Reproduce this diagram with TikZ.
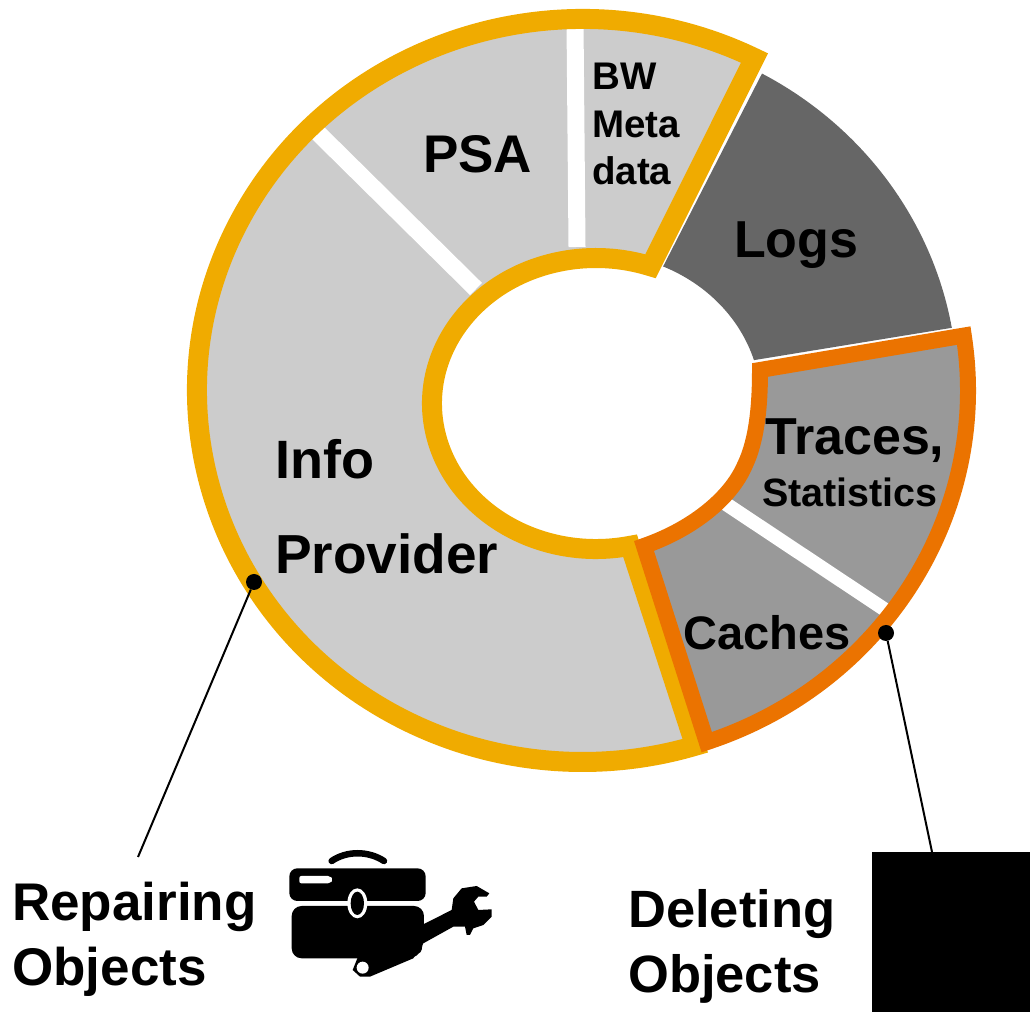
\documentclass[tikz,border=0pt]{standalone}
\usepackage{fontspec}
\setmainfont{Liberation Sans}
\definecolor{ringyellow}{HTML}{F0AB00}
\definecolor{ringorange}{HTML}{EB7300}
\definecolor{lightseg}{HTML}{CCCCCC}
\definecolor{midseg}{HTML}{999999}
\definecolor{darkseg}{HTML}{666666}
\tikzset{
    lbl/.style={anchor=base west,inner sep=0pt,font=\fontsize{#1}{#1}\selectfont\bfseries},
    pin/.style={circle,fill=black,inner sep=0pt,minimum size=16pt},
    pinline/.style={line width=2pt},
    gap/.style={white,line width=#1},
}
\begin{document}
\begin{tikzpicture}[x=1pt,y=1pt]
        \useasboundingbox (0,0) rectangle (1030,1012);
        \coordinate (outerc) at (582.5,621.5);
        \coordinate (innerc) at (596,608.5);

        % dark segment
        \fill[darkseg] ([shift={(61.4:375 and 361)}]outerc) arc[start angle=61.4,end angle=10,x radius=375,y radius=361]
            -- ([shift={(16.8:165 and 150)}]innerc) arc[start angle=16.8,end angle=66,x radius=165,y radius=150] -- cycle;

        % repair group
        \fill[lightseg] ([shift={(63.5:385.5 and 371.5)}]outerc) arc[start angle=63.5,end angle=287,x radius=385.5,y radius=371.5]
            -- ([shift={(282:164 and 145.5)}]innerc) arc[start angle=282,end angle=70.6,x radius=164,y radius=145.5] -- cycle;
        \draw[gap=17pt] (575,990) -- (577,765);
        \draw[gap=17pt] (316,881) -- (476,723);
        \draw[ringyellow,line width=20pt] ([shift={(63.5:385.5 and 371.5)}]outerc) arc[start angle=63.5,end angle=287,x radius=385.5,y radius=371.5]
            -- ([shift={(282:164 and 145.5)}]innerc) arc[start angle=282,end angle=70.6,x radius=164,y radius=145.5] -- cycle;

        % delete group
        \fill[midseg] ([shift={(8.5:385.5 and 371.5)}]outerc) arc[start angle=8.5,end angle=-71.2,x radius=385.5,y radius=371.5]
            -- (644,466) .. controls (690,482) and (730,512) .. (745,547)
            .. controls (757,572) and (760,607) .. (760,642) -- cycle;
        \draw[gap=14pt] (720,512) -- (893,397);
        \draw[ringorange,line width=16pt] ([shift={(8.5:385.5 and 371.5)}]outerc) arc[start angle=8.5,end angle=-71.2,x radius=385.5,y radius=371.5]
            -- (644,466) .. controls (690,482) and (730,512) .. (745,547)
            .. controls (757,572) and (760,607) .. (760,642) -- cycle;

        \node[lbl=53] (psa) at (423,839) {PSA};
        \node[lbl=38.5] (bw) at (592,922) {BW};
        \node[lbl=38.5] (meta) at (592,874) {Meta};
        \node[lbl=38.5] (data) at (592,827) {data};
        \node[lbl=52] (logs) at (734,754) {Logs};
        \node[lbl=52] (traces) at (765,557) {Traces,};
        \node[lbl=39.5] (statistics) at (762,505) {Statistics};
        \node[lbl=47] (caches) at (683,362) {Caches};
        \node[lbl=54] (info) at (275,533) {Info};
        \node[lbl=55] (provider) at (275,438) {Provider};

        \node[lbl=53] (repairing) at (12,92) {Repairing};
        \node[lbl=53] (objectsa) at (12,27) {Objects};
        \node[lbl=52.5] (deleting) at (628,85) {Deleting};
        \node[lbl=52.5] (objectsb) at (628,20) {Objects};

        \node[fill=black,inner sep=0pt,minimum width=158pt,minimum height=160pt] (trash) at (951,80) {};
        \node[pin] (repairpin) at (254,430) {};
        \node[pin] (deletepin) at (886,379) {};
        \coordinate (repairend) at (138,155);
        \coordinate (deleteend) at (932,160);
        \draw[pinline] (repairpin) -- (repairend);
        \draw[pinline] (deletepin) -- (deleteend);

        % toolbox
        \begin{scope}[shift={(270,182)},x=0.3333pt,y=-0.3333pt]
            \draw[line width=6.5pt,line cap=round] (185,93) .. controls (230,62) and (295,62) .. (342,93);
            \fill[rounded corners=8pt] (58,213) -- (58,115) -- (467,115) -- (467,213) -- cycle;
            \fill[rounded corners=10pt] (65,228) -- (65,385) -- (445,385) -- (462,340) -- (462,228) -- cycle;
            \fill[white,rounded corners=2pt] (88,138) -- (180,138) -- (190,149) -- (180,160) -- (88,160) -- cycle;
            \fill[white] (262,220) ellipse[x radius=30,y radius=45];
            \fill (262,220) ellipse[x radius=20,y radius=35];
            \fill (462,282) -- (545,240) -- (550,205) -- (575,175) -- (620,168) -- (658,190) -- (650,200) -- (625,200)
                -- (612,215) -- (625,240) -- (665,238) -- (665,260) -- (640,285) -- (610,295) -- (600,315) -- (590,315)
                -- (585,290) -- (550,290) -- (460,340) -- (430,385) -- (300,440) -- (270,440) -- (248,420) -- (262,385) -- cycle;
            \fill[white] (278,413) circle[radius=18];
        \end{scope}
    \end{tikzpicture}
\end{document}
